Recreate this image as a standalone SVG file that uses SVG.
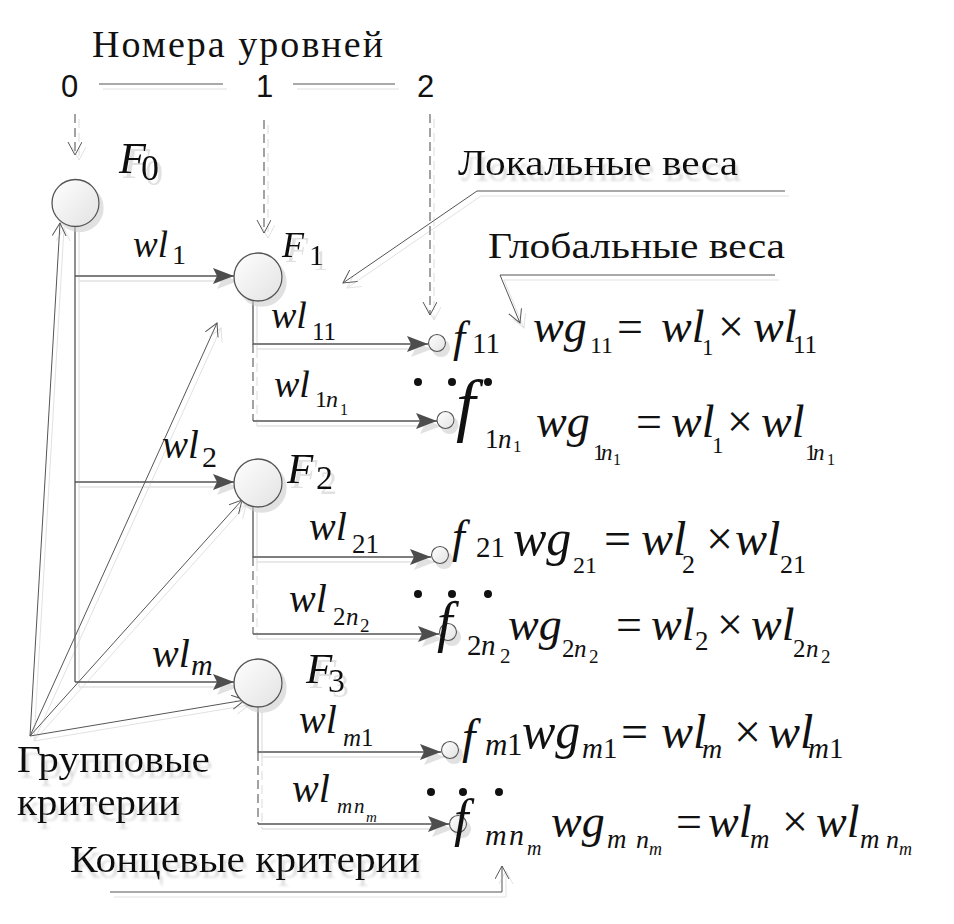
<svg xmlns="http://www.w3.org/2000/svg" width="954" height="924" viewBox="0 0 954 924">
<style>
.t{font-family:"Liberation Serif","Times New Roman",serif;fill:#111}
.i{font-style:italic}
.s{font-family:"Liberation Sans","Open Sans",sans-serif;fill:#111}
.ln{fill:none;stroke:#555;stroke-width:1.3}
.lt{fill:none;stroke:#555;stroke-width:1}
.ds{fill:none;stroke:#666;stroke-width:1.2;stroke-dasharray:9 5}
.big{fill:url(#cg);stroke:#555;stroke-width:1.3}
.sm{fill:url(#cg);stroke:#555;stroke-width:1.1}
.dot{fill:#111}
.lab{font-family:"Liberation Serif","Times New Roman",serif;fill:#111}
</style>
<defs>
<linearGradient id="cg" x1="0" y1="0" x2="1" y2="1">
<stop offset="0" stop-color="#ffffff"/>
<stop offset="1" stop-color="#e2e2e2"/>
</linearGradient>
<filter id="sh" filterUnits="userSpaceOnUse" x="0" y="0" width="954" height="924">
<feDropShadow dx="4" dy="5" stdDeviation="0.6" flood-color="#c8c8c8" flood-opacity="0.55"/>
</filter>
<filter id="tsh" filterUnits="userSpaceOnUse" x="0" y="0" width="954" height="924">
<feDropShadow dx="3" dy="6" stdDeviation="0.8" flood-color="#c8c8c8" flood-opacity="0.6"/>
</filter>
<marker id="fa" markerUnits="userSpaceOnUse" markerWidth="22" markerHeight="18" refX="21" refY="8" orient="auto">
<path d="M0,0 L21,8 L0,16 L4,8 Z" fill="#4d4d4d"/>
</marker>
<marker id="oa" markerUnits="userSpaceOnUse" markerWidth="16" markerHeight="16" refX="13" refY="7" orient="auto">
<path d="M0,0 L13,7 L0,14" fill="none" stroke="#555" stroke-width="1"/>
</marker>
</defs>

<g id="connectors" filter="url(#sh)">
<path class="lt" d="M99 84 H223"/>
<path class="lt" d="M293 84 H395"/>
<path class="ds" d="M75 114 V155" marker-end="url(#oa)"/>
<path class="ds" d="M264 120 V233" marker-end="url(#oa)"/>
<path class="ds" d="M430 114 V315" marker-end="url(#oa)"/>
<path class="ln" d="M75 227 V682"/>
<path class="ln" d="M75 276 H234" marker-end="url(#fa)"/>
<path class="ln" d="M75 482 H234" marker-end="url(#fa)"/>
<path class="ln" d="M75 682 H234" marker-end="url(#fa)"/>
<path class="ln" d="M253 301 V344 H428" marker-end="url(#fa)"/>
<path class="ds" d="M253 344 V421"/>
<path class="ln" d="M253 421 H437" marker-end="url(#fa)"/>
<path class="ln" d="M253 507 V557 H431" marker-end="url(#fa)"/>
<path class="ds" d="M253 557 V634"/>
<path class="ln" d="M253 634 H439" marker-end="url(#fa)"/>
<path class="ln" d="M258 707 V752 H441" marker-end="url(#fa)"/>
<path class="ds" d="M258 752 V824"/>
<path class="ln" d="M258 824 H449" marker-end="url(#fa)"/>
<path class="lt" d="M30 736 L60 223" marker-end="url(#oa)"/>
<path class="lt" d="M30 736 L217 323" marker-end="url(#oa)"/>
<path class="lt" d="M30 736 L242 500" marker-end="url(#oa)"/>
<path class="lt" d="M30 736 L245 700" marker-end="url(#oa)"/>
<path class="lt" d="M785 191 H477 L343 283" marker-end="url(#oa)"/>
<path class="lt" d="M775 275 H500 L520 323" marker-end="url(#oa)"/>
<path class="lt" d="M110 892 H502 V866" marker-end="url(#oa)"/>
</g>

<g id="level-labels">
<text class="lab" x="92" y="57" font-size="38" textLength="291" lengthAdjust="spacing">Номера уровней</text>
<text class="s" x="61" y="97" font-size="31">0</text>
<text class="s" x="256" y="97" font-size="31">1</text>
<text class="s" x="417" y="97" font-size="31">2</text>
</g>

<g id="F0" filter="url(#sh)">
<circle class="big" cx="75.5" cy="203" r="23.5"/>
<text class="t i" x="119" y="173" font-size="44">F</text><text class="t" x="141" y="180" font-size="36">0</text>
</g>
<g id="F1" filter="url(#sh)">
<circle class="big" cx="258" cy="277" r="24"/>
<text class="t i" x="282" y="257" font-size="36">F</text><text class="t" x="309" y="265" font-size="30">1</text>
</g>
<g id="F2" filter="url(#sh)">
<circle class="big" cx="258" cy="483" r="24"/>
<text class="t i" x="287" y="483" font-size="43">F</text><text class="t" x="316" y="489" font-size="34">2</text>
</g>
<g id="F3" filter="url(#sh)">
<circle class="big" cx="258" cy="683" r="24"/>
<text class="t i" x="306" y="683" font-size="43">F</text><text class="t" x="328" y="692" font-size="34">3</text>
</g>

<g id="f11" filter="url(#sh)"><circle class="sm" cx="437" cy="343" r="8.5"/></g>
<g id="f1n1" filter="url(#sh)"><circle class="sm" cx="445.5" cy="420" r="8.5"/></g>
<g id="f21" filter="url(#sh)"><circle class="sm" cx="440" cy="555" r="8.5"/></g>
<g id="f2n2" filter="url(#sh)"><circle class="sm" cx="448" cy="632" r="8.5"/></g>
<g id="fm1" filter="url(#sh)"><circle class="sm" cx="450" cy="750" r="8.5"/></g>
<g id="fmnm" filter="url(#sh)"><circle class="sm" cx="458" cy="824" r="8.5"/></g>

<g id="edge-labels">
<text class="t"><tspan class="i" x="133" y="257" font-size="37">wl</tspan><tspan x="172" y="264" font-size="28">1</tspan></text>
<text class="t"><tspan class="i" x="271" y="328" font-size="38">wl</tspan><tspan x="312" y="340" font-size="25">11</tspan></text>
<text class="t"><tspan class="i" x="274" y="397" font-size="38">wl</tspan><tspan x="315" y="407" font-size="24">1</tspan><tspan class="i" x="326" y="407" font-size="24">n</tspan><tspan x="340" y="415" font-size="16">1</tspan></text>
<text class="t"><tspan class="i" x="162" y="458" font-size="39">wl</tspan><tspan x="202" y="467" font-size="30">2</tspan></text>
<text class="t"><tspan class="i" x="309" y="540" font-size="40">wl</tspan><tspan x="352" y="553" font-size="27">21</tspan></text>
<text class="t"><tspan class="i" x="289" y="612" font-size="40">wl</tspan><tspan x="333" y="625" font-size="25">2</tspan><tspan class="i" x="346" y="625" font-size="25">n</tspan><tspan x="360" y="632" font-size="19">2</tspan></text>
<text class="t"><tspan class="i" x="152" y="667" font-size="40">wl</tspan><tspan class="i" x="191" y="675" font-size="30">m</tspan></text>
<text class="t"><tspan class="i" x="299" y="733" font-size="40">wl</tspan><tspan class="i" x="343" y="746" font-size="25">m</tspan><tspan x="361" y="746" font-size="25">1</tspan></text>
<text class="t"><tspan class="i" x="292" y="802" font-size="40">wl</tspan><tspan class="i" x="337" y="813" font-size="21">m</tspan><tspan class="i" x="354" y="813" font-size="21">n</tspan><tspan class="i" x="366" y="822" font-size="15">m</tspan></text>
</g>

<g id="dots">
<circle class="dot" cx="418" cy="382" r="4"/><circle class="dot" cx="452" cy="382" r="4"/><circle class="dot" cx="488" cy="382" r="4"/>
<circle class="dot" cx="418" cy="594" r="4"/><circle class="dot" cx="452" cy="594" r="4"/><circle class="dot" cx="488" cy="594" r="4"/>
<circle class="dot" cx="431" cy="792" r="4"/><circle class="dot" cx="463" cy="792" r="4"/><circle class="dot" cx="499" cy="792" r="4"/>
</g>

<g id="formulas">
<text class="t"><tspan class="i" x="453" y="352" font-size="44">f</tspan><tspan x="472" y="353" font-size="29">11</tspan></text>
<text class="t"><tspan class="i" x="533" y="342" font-size="46">wg</tspan><tspan x="590" y="353" font-size="24">11</tspan><tspan x="617" y="342" font-size="46">=</tspan><tspan class="i" x="661" y="342" font-size="46">wl</tspan><tspan x="702" y="355" font-size="23">1</tspan><tspan x="718" y="342" font-size="46">×</tspan><tspan class="i" x="753" y="342" font-size="46">wl</tspan><tspan x="793" y="353" font-size="25">11</tspan></text>
<text class="t"><tspan class="i" x="456" y="428" font-size="70">f</tspan><tspan x="485" y="448" font-size="27">1</tspan><tspan class="i" x="498" y="448" font-size="27">n</tspan><tspan x="513" y="452" font-size="17">1</tspan></text>
<text class="t"><tspan class="i" x="536" y="437" font-size="46">wg</tspan><tspan x="593" y="460" font-size="23">1</tspan><tspan class="i" x="601" y="460" font-size="23">n</tspan><tspan x="613" y="465" font-size="16">1</tspan><tspan x="636" y="437" font-size="46">=</tspan><tspan class="i" x="671" y="437" font-size="46">wl</tspan><tspan x="712" y="453" font-size="23">1</tspan><tspan x="727" y="437" font-size="46">×</tspan><tspan class="i" x="761" y="437" font-size="46">wl</tspan><tspan x="805" y="460" font-size="23">1</tspan><tspan class="i" x="813" y="460" font-size="23">n</tspan><tspan x="827" y="465" font-size="16">1</tspan></text>
<text class="t"><tspan class="i" x="452" y="552" font-size="46">f</tspan><tspan x="476" y="557" font-size="29">21</tspan></text>
<text class="t"><tspan class="i" x="513" y="555" font-size="50">wg</tspan><tspan x="573" y="573" font-size="24">21</tspan><tspan x="604" y="555" font-size="48">=</tspan><tspan class="i" x="641" y="555" font-size="48">wl</tspan><tspan x="682" y="573" font-size="26">2</tspan><tspan x="706" y="555" font-size="48">×</tspan><tspan class="i" x="735" y="555" font-size="48">wl</tspan><tspan x="780" y="573" font-size="26">21</tspan></text>
<text class="t"><tspan class="i" x="437" y="641" font-size="56">f</tspan><tspan x="467" y="655" font-size="29">2</tspan><tspan class="i" x="481" y="655" font-size="29">n</tspan><tspan x="500" y="663" font-size="21">2</tspan></text>
<text class="t"><tspan class="i" x="508" y="640" font-size="46">wg</tspan><tspan x="562" y="657" font-size="25">2</tspan><tspan class="i" x="574" y="657" font-size="25">n</tspan><tspan x="589" y="663" font-size="19">2</tspan><tspan x="616" y="640" font-size="46">=</tspan><tspan class="i" x="651" y="640" font-size="46">wl</tspan><tspan x="695" y="650" font-size="27">2</tspan><tspan x="717" y="640" font-size="46">×</tspan><tspan class="i" x="751" y="640" font-size="46">wl</tspan><tspan x="793" y="657" font-size="25">2</tspan><tspan class="i" x="806" y="657" font-size="25">n</tspan><tspan x="821" y="663" font-size="19">2</tspan></text>
<text class="t"><tspan class="i" x="462" y="753" font-size="48">f</tspan><tspan class="i" x="485" y="755" font-size="31">m</tspan><tspan x="507" y="755" font-size="31">1</tspan></text>
<text class="t"><tspan class="i" x="522" y="748" font-size="50">wg</tspan><tspan class="i" x="582" y="758" font-size="29">m</tspan><tspan x="603" y="758" font-size="29">1</tspan><tspan x="621" y="748" font-size="48">=</tspan><tspan class="i" x="661" y="748" font-size="48">wl</tspan><tspan class="i" x="702" y="758" font-size="28">m</tspan><tspan x="734" y="748" font-size="48">×</tspan><tspan class="i" x="768" y="748" font-size="48">wl</tspan><tspan class="i" x="808" y="758" font-size="29">m</tspan><tspan x="829" y="758" font-size="29">1</tspan></text>
<text class="t"><tspan class="i" x="454" y="836" font-size="52">f</tspan><tspan class="i" x="485" y="845" font-size="30">m</tspan><tspan class="i" x="509" y="845" font-size="30">n</tspan><tspan class="i" x="527" y="855" font-size="20">m</tspan></text>
<text class="t"><tspan class="i" x="551" y="837" font-size="46">wg</tspan><tspan class="i" x="607" y="848" font-size="27">m</tspan><tspan class="i" x="636" y="848" font-size="26">n</tspan><tspan class="i" x="649" y="855" font-size="18">m</tspan><tspan x="676" y="837" font-size="46">=</tspan><tspan class="i" x="708" y="837" font-size="46">wl</tspan><tspan class="i" x="750" y="848" font-size="27">m</tspan><tspan x="782" y="837" font-size="46">×</tspan><tspan class="i" x="816" y="837" font-size="46">wl</tspan><tspan class="i" x="860" y="848" font-size="27">m</tspan><tspan class="i" x="886" y="848" font-size="26">n</tspan><tspan class="i" x="899" y="855" font-size="18">m</tspan></text>
</g>

<g id="callout-labels">
<text class="lab" x="458" y="175" font-size="36" textLength="280" lengthAdjust="spacingAndGlyphs" filter="url(#tsh)">Локальные веса</text>
<text class="lab" x="488" y="258" font-size="36" textLength="297" lengthAdjust="spacingAndGlyphs">Глобальные веса</text>
<text class="lab" x="17" y="772" font-size="38" textLength="193" lengthAdjust="spacingAndGlyphs" filter="url(#tsh)">Групповые</text>
<text class="lab" x="17" y="815" font-size="38" textLength="163" lengthAdjust="spacingAndGlyphs" filter="url(#tsh)">критерии</text>
<text class="lab" x="70" y="872" font-size="38" textLength="350" lengthAdjust="spacingAndGlyphs" filter="url(#tsh)">Концевые критерии</text>
</g>
</svg>
